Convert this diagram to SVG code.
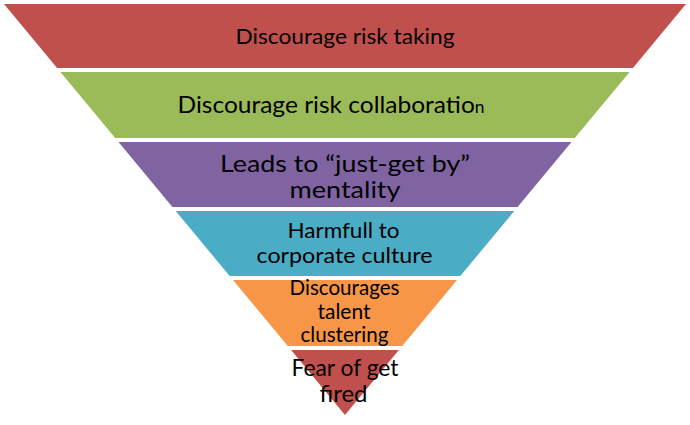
<svg xmlns="http://www.w3.org/2000/svg" width="690" height="425" viewBox="0 0 690 425">
<style>
.t{font-family:Lato,"Open Sans","Liberation Sans",sans-serif;fill:#000;text-anchor:middle}
</style>
<rect width="690" height="425" fill="#fff"/>
<g id="band1">
<polygon points="4,4 686,4 632.9,68 57.1,68" fill="#C0504D"/>
<text class="t" x="345" y="44" font-size="22" textLength="219" lengthAdjust="spacingAndGlyphs">Discourage risk taking</text>
</g>
<g id="band2">
<polygon points="60.4,72 629.6,72 574.8,138 115.2,138" fill="#9BBB59"/>
<text class="t" x="331" y="113" font-size="24" textLength="307" lengthAdjust="spacingAndGlyphs">Discourage risk collaboratio<tspan font-size="17">n</tspan></text>
</g>
<g id="band3">
<polygon points="118.5,142 571.5,142 517.6,207 172.4,207" fill="#8064A2"/>
<text class="t" x="345" y="172" font-size="24" textLength="250" lengthAdjust="spacingAndGlyphs">Leads to “just-get by”</text>
<text class="t" x="345" y="198" font-size="24" textLength="111" lengthAdjust="spacingAndGlyphs">mentality</text>
</g>
<g id="band4">
<polygon points="175.7,211 514.3,211 460.3,276 229.7,276" fill="#4BACC6"/>
<text class="t" x="343.5" y="238" font-size="21" textLength="112" lengthAdjust="spacingAndGlyphs">Harmfull to</text>
<text class="t" x="344.5" y="263" font-size="21" textLength="176" lengthAdjust="spacingAndGlyphs">corporate culture</text>
</g>
<g id="band5">
<polygon points="233,280 457,280 402.2,346 287.8,346" fill="#F79646"/>
<text class="t" x="344.5" y="295" font-size="21" textLength="110" lengthAdjust="spacingAndGlyphs">Discourages</text>
<text class="t" x="344" y="319" font-size="21" textLength="53" lengthAdjust="spacingAndGlyphs">talent</text>
<text class="t" x="344.5" y="342" font-size="21" textLength="88" lengthAdjust="spacingAndGlyphs">clustering</text>
</g>
<g id="band6">
<polygon points="291.1,350 398.9,350 345,415" fill="#C0504D"/>
<text class="t" x="345" y="376" font-size="23" textLength="107" lengthAdjust="spacingAndGlyphs">Fear of get</text>
<text class="t" x="343.5" y="402" font-size="23" textLength="48" lengthAdjust="spacingAndGlyphs">fired</text>
</g>
<g id="connectors"/>
</svg>
